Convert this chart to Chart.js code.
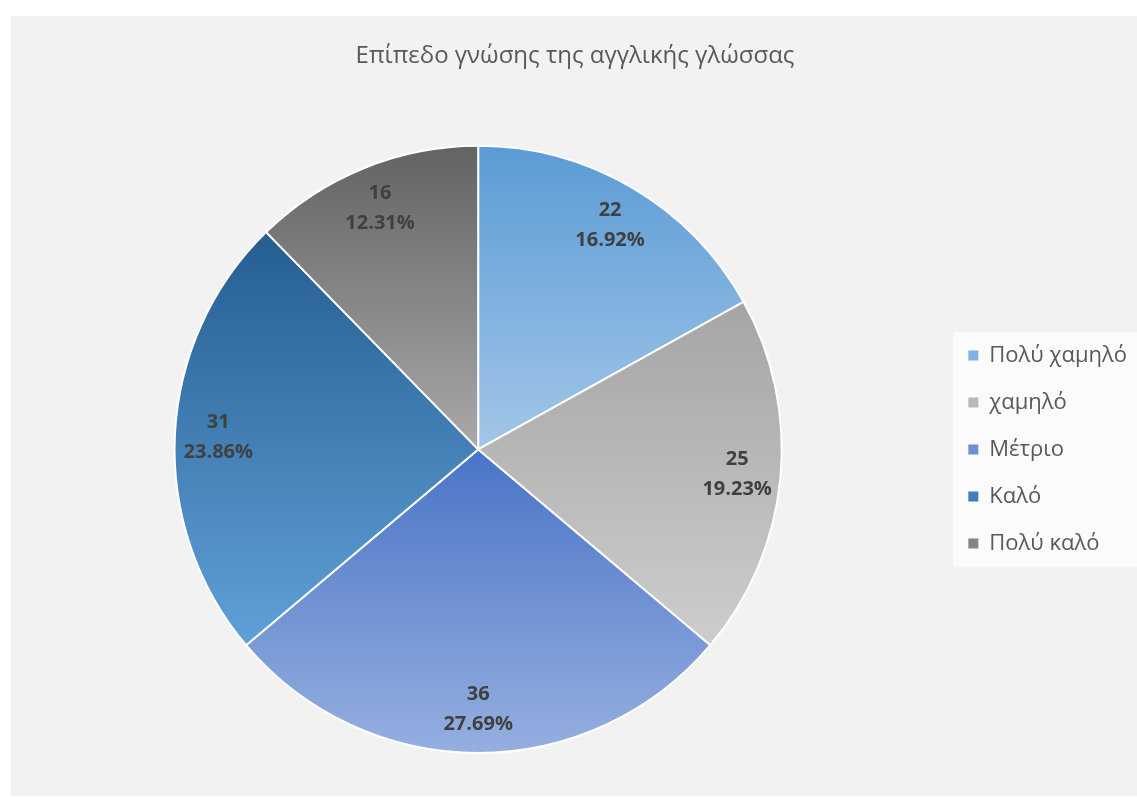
<!DOCTYPE html>
<html>
<head>
<meta charset="utf-8">
<script src="https://cdn.jsdelivr.net/npm/chart.js@4.4.1/dist/chart.umd.min.js"></script>
<style>
  body { margin: 0; background: #ffffff; }
  #wrap { position: absolute; left: 11px; top: 16px; width: 1126px; height: 780px; background: #f2f2f2; }
</style>
</head>
<body>
<div id="wrap"><canvas id="pieChart"></canvas></div>
<script>
const labels = ['Πολύ χαμηλό', 'χαμηλό', 'Μέτριο', 'Καλό', 'Πολύ καλό'];
const counts = [22, 25, 36, 31, 16];
const percentLabels = ['16.92%', '19.23%', '27.69%', '23.86%', '12.31%'];

// each slice is shaded from its top colour down to its bottom colour
const topColors = ['#5b9bd5', '#a5a5a5', '#4a74c6', '#255e91', '#636363'];
const bottomColors = ['#a3c6e8', '#cdcdcd', '#95afe0', '#60a0d8', '#a9a9a9'];
const legendColors = ['#7db2e2', '#b9b9b9', '#6c8fd6', '#3f7fbf', '#858585'];

const sliceGradients = {
  id: 'sliceGradients',
  beforeDatasetsDraw(chart) {
    const ctx = chart.ctx;
    chart.getDatasetMeta(0).data.forEach((arc, i) => {
      const {x, y, startAngle, endAngle, outerRadius} =
        arc.getProps(['x', 'y', 'startAngle', 'endAngle', 'outerRadius']);
      const ys = [y, y + outerRadius * Math.sin(startAngle), y + outerRadius * Math.sin(endAngle)];
      for (const a of [-Math.PI / 2, Math.PI / 2, 3 * Math.PI / 2]) {
        if (a >= startAngle && a <= endAngle) ys.push(y + outerRadius * Math.sin(a));
      }
      const g = ctx.createLinearGradient(0, Math.min(...ys), 0, Math.max(...ys));
      g.addColorStop(0, topColors[i]);
      g.addColorStop(1, bottomColors[i]);
      arc.options.backgroundColor = g;
    });
  }
};

// value and percentage written inside each slice
const sliceLabels = {
  id: 'sliceLabels',
  afterDatasetsDraw(chart) {
    const ctx = chart.ctx;
    ctx.save();
    ctx.font = 'bold 20px "Open Sans"';
    ctx.fillStyle = '#404040';
    ctx.textAlign = 'center';
    ctx.textBaseline = 'middle';
    chart.getDatasetMeta(0).data.forEach((arc, i) => {
      const {x, y, startAngle, endAngle, outerRadius} =
        arc.getProps(['x', 'y', 'startAngle', 'endAngle', 'outerRadius']);
      const mid = (startAngle + endAngle) / 2;
      const d = outerRadius * 0.857;
      const lx = x + d * Math.cos(mid);
      const ly = y + d * Math.sin(mid);
      ctx.fillText(String(counts[i]), lx, ly - 15);
      ctx.fillText(percentLabels[i], lx, ly + 15);
    });
    ctx.restore();
  }
};

// light panel behind the legend
const legendPanel = {
  id: 'legendPanel',
  beforeDraw(chart) {
    const boxes = chart.legend.legendHitBoxes;
    if (!boxes || !boxes.length) return;
    const first = boxes[0];
    const last = boxes[boxes.length - 1];
    const top = first.top + first.height / 2 - 23;
    const bottom = last.top + last.height / 2 + 24;
    const left = first.left - 15;
    const ctx = chart.ctx;
    ctx.save();
    ctx.fillStyle = '#fbfbfb';
    ctx.fillRect(left, top, chart.width - left, bottom - top);
    ctx.restore();
  }
};

Chart.defaults.font.family = 'Open Sans';

new Chart(document.getElementById('pieChart'), {
  type: 'pie',
  data: {
    labels: labels,
    datasets: [{
      data: counts,
      backgroundColor: topColors,
      borderColor: '#ffffff',
      borderWidth: 2
    }]
  },
  options: {
    responsive: true,
    maintainAspectRatio: false,
    animation: false,
    events: [],
    layout: {
      padding: { left: 2, right: 0, top: 0, bottom: 42 }
    },
    plugins: {
      title: {
        display: true,
        text: 'Επίπεδο γνώσης της αγγλικής γλώσσας',
        color: '#595959',
        font: { family: 'Open Sans', size: 24, weight: 'normal' },
        padding: { top: 26, bottom: 74 }
      },
      legend: {
        position: 'right',
        fullSize: false,
        labels: {
          boxWidth: 10,
          boxHeight: 10,
          padding: 25,
          color: '#595959',
          font: { family: 'Open Sans', size: 22 },
          generateLabels: () => labels.map((t, i) => ({
            text: t,
            fillStyle: legendColors[i],
            strokeStyle: legendColors[i],
            lineWidth: 0,
            fontColor: '#595959',
            hidden: false,
            index: i
          }))
        }
      },
      tooltip: { enabled: false }
    }
  },
  plugins: [legendPanel, sliceGradients, sliceLabels]
});
</script>
</body>
</html>
